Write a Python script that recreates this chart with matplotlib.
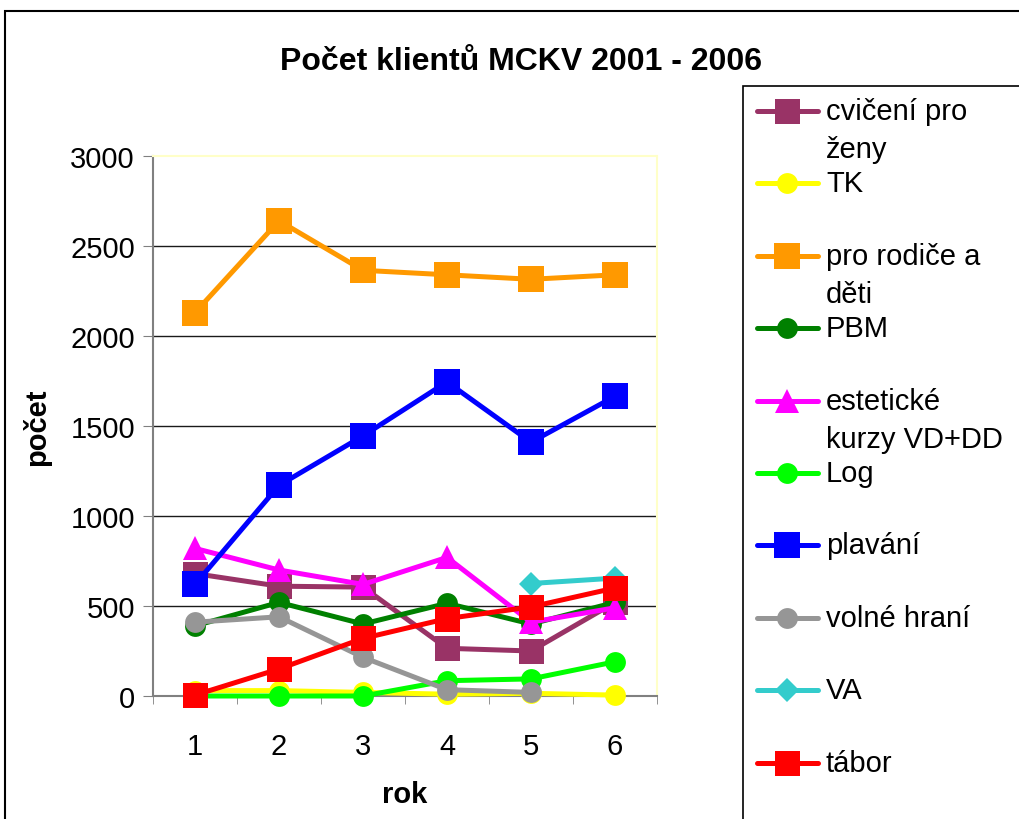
import numpy as np
import matplotlib.pyplot as plt
from matplotlib.lines import Line2D
from matplotlib.patches import Rectangle

plt.rcParams['font.family'] = ['Liberation Sans', 'DejaVu Sans']

# data
years = [1, 2, 3, 4, 5, 6]
labels = ['cvičení pro\nženy', 'TK', 'pro rodiče a\nděti', 'PBM',
          'estetické\nkurzy VD+DD', 'Log', 'plavání', 'volné hraní', 'VA', 'tábor']
cviceni = [680, 610, 605, 265, 250, 520]
tk = [30, 30, 20, 10, 15, 5]
rodice = [2130, 2640, 2365, 2340, 2315, 2340]
pbm = [390, 520, 400, 515, 400, 520]
estet = [820, 700, 620, 770, 410, 490]
log = [0, 0, 0, 85, 95, 190]
plavani = [620, 1170, 1445, 1745, 1410, 1665]
volne = [410, 440, 215, 35, 20, np.nan]
va = [np.nan, np.nan, np.nan, np.nan, 625, 655]
tabor = [5, 150, 320, 430, 495, 600]

series = [cviceni, tk, rodice, pbm, estet, log, plavani, volne, va, tabor]
colors = ['#993366', '#FFFF00', '#FF9900', '#008000', '#FF00FF',
          '#00FF00', '#0000FF', '#969696', '#33CCCC', '#FF0000']
markers = ['s', 'o', 's', 'o', '^', 'o', 's', 'o', 'D', 's']
msizes = [18, 15, 19, 15, 17, 15, 19, 15, 12, 18]

fig = plt.figure(figsize=(10.19, 8.2), dpi=100)
W, H = 1019, 820

def fx(px): return px / W
def fy(py): return 1 - py / H

# outer chart frame and legend box
fig.add_artist(Rectangle((fx(5), fy(900)), 2, fy(12) - fy(900), transform=fig.transFigure,
                         fill=False, edgecolor='black', lw=1.5))
fig.add_artist(Rectangle((fx(743), fy(900)), 2, fy(87) - fy(900), transform=fig.transFigure,
                         fill=False, edgecolor='black', lw=1.2))

ax = fig.add_axes([fx(153), fy(697), fx(657) - fx(153), fy(157) - fy(697)])
ax.set_xlim(0.5, 6.5)
ax.set_ylim(0, 3000)

for i, vals in enumerate(series):
    ax.plot(years, vals, color=colors[i], lw=3.6, marker=markers[i],
            markersize=msizes[i], markeredgewidth=0, zorder=3 + i, clip_on=False)

ax.set_yticks(np.arange(0, 3001, 500))
ax.set_xticks(years)
ax.set_xticks(np.arange(0.5, 7, 1), minor=True)
for y in range(500, 3000, 500):
    ax.axhline(y, color='#1a1a1a', lw=1.0, zorder=1)
ax.tick_params(axis='y', direction='out', length=7, color='#808080', labelsize=21, pad=6)
ax.tick_params(axis='x', which='major', length=0, labelsize=21, pad=26)
ax.tick_params(axis='x', which='minor', direction='out', length=6, color='#808080')
ax.spines['left'].set_color('#808080')
ax.spines['bottom'].set_color('#808080')
ax.spines['top'].set_color('#FFFFC8')
ax.spines['right'].set_color('#FFFFC8')
for s in ax.spines.values():
    s.set_linewidth(1.5)

ax.set_ylabel('počet', fontsize=21, fontweight='bold', labelpad=14)
ax.set_xlabel('rok', fontsize=21, fontweight='bold', labelpad=14)

fig.text(fx(521), fy(62), 'Počet klientů MCKV 2001 - 2006', ha='center', va='center',
         fontsize=23, fontweight='bold')

# legend drawn by hand to keep Excel-style spacing
y0, step = 112, 72.4
for i, lab in enumerate(labels):
    yy = y0 + i * step
    fig.add_artist(Line2D([fx(757), fx(818)], [fy(yy), fy(yy)], transform=fig.transFigure,
                          color=colors[i], lw=3.6, solid_capstyle='round'))
    fig.add_artist(Line2D([fx(787)], [fy(yy)], transform=fig.transFigure, color=colors[i],
                          marker=markers[i], markersize=msizes[i], markeredgewidth=0))
    for j, line in enumerate(lab.split('\n')):
        fig.text(fx(826), fy(yy + 38 * j), line, ha='left', va='center', fontsize=21)

fig.savefig('out.png', dpi=100)
